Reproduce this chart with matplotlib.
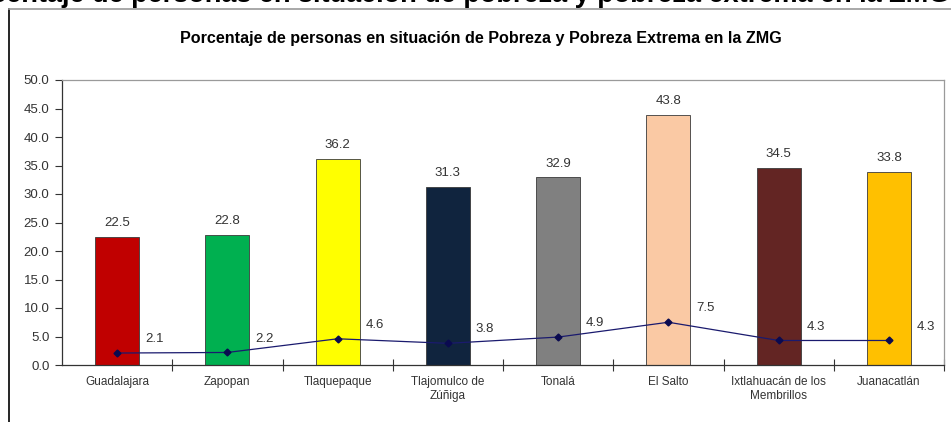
import matplotlib
matplotlib.use("Agg")
import matplotlib.pyplot as plt
from matplotlib.lines import Line2D

plt.rcParams["font.family"] = ["Liberation Sans", "DejaVu Sans"]

# datos
municipios = ["Guadalajara", "Zapopan", "Tlaquepaque", "Tlajomulco de\nZúñiga", "Tonalá",
              "El Salto", "Ixtlahuacán de los\nMembrillos", "Juanacatlán"]
pobreza = [22.5, 22.8, 36.2, 31.3, 32.9, 43.8, 34.5, 33.8]
pobreza_extrema = [2.1, 2.2, 4.6, 3.8, 4.9, 7.5, 4.3, 4.3]
colores = ["#C00000", "#00B050", "#FFFF00", "#10243E", "#808080", "#FAC9A4", "#632523", "#FFC000"]
y_ticks = [0, 5, 10, 15, 20, 25, 30, 35, 40, 45, 50]

W, H = 951, 422
fig = plt.figure(figsize=(W / 100, H / 100), dpi=100)

# texto de la página, cortado arriba (como en la imagen original)
fig.text(950 / W, 1 - 2 / H,
         "Porcentaje de personas en situación de pobreza y pobreza extrema en la ZMG",
         ha="right", va="baseline", fontsize=19.5, fontweight="bold", color="black")

# marco del gráfico
fig.add_artist(Line2D([8.5 / W, 8.5 / W], [0, 1 - 9 / H], color="black", lw=1.2))
fig.add_artist(Line2D([8.5 / W, 1], [1 - 9 / H, 1 - 9 / H], color="#9A9A9A", lw=1.2))

fig.text(481 / W, 1 - 38 / H,
         "Porcentaje de personas en situación de Pobreza y Pobreza Extrema en la ZMG",
         ha="center", va="center", fontsize=11.6, fontweight="bold", color="black")

ax = fig.add_axes([62 / W, 1 - 365 / H, 882 / W, 285 / H])
x = list(range(len(municipios)))

ax.bar(x, pobreza, width=0.4, color=colores, edgecolor="#3A3A3A", linewidth=0.6, zorder=2)
for xi, v in zip(x, pobreza):
    ax.annotate(f"{v:.1f}", (xi, v), xytext=(0, 10), textcoords="offset points",
                ha="center", va="center", fontsize=9.5, color="#333333")

ax.plot(x, pobreza_extrema, color="#1A1A6E", lw=0.9, marker="D", markersize=3.5,
        markerfacecolor="#0A0A50", markeredgecolor="#0A0A50", zorder=3)
for xi, v in zip(x, pobreza_extrema):
    ax.annotate(f"{v:.1f}", (xi, v), xytext=(20, 10), textcoords="offset points",
                ha="left", va="center", fontsize=9.5, color="#333333")

ax.set_xlim(-0.5, len(municipios) - 0.5)
ax.set_ylim(0, 50)
ax.set_yticks(y_ticks)
ax.set_yticklabels([f"{t:.1f}" for t in y_ticks], fontsize=9.5, color="#333333")
ax.tick_params(axis="y", direction="out", length=5, width=0.8, color="#333333", pad=4)

ax.set_xticks(x)
ax.set_xticklabels(municipios, fontsize=8.5, color="#333333", linespacing=1.2)
ax.set_xticks([i + 0.5 for i in x], minor=True)
ax.tick_params(axis="x", which="major", length=0, pad=8)
ax.tick_params(axis="x", which="minor", direction="inout", length=8, width=0.8, color="#333333")

ax.spines["left"].set_color("#333333")
ax.spines["bottom"].set_color("#333333")
ax.spines["top"].set_color("#9A9A9A")
ax.spines["right"].set_color("#9A9A9A")
for s in ax.spines.values():
    s.set_linewidth(0.9)

fig.savefig("out.png", dpi=100)
